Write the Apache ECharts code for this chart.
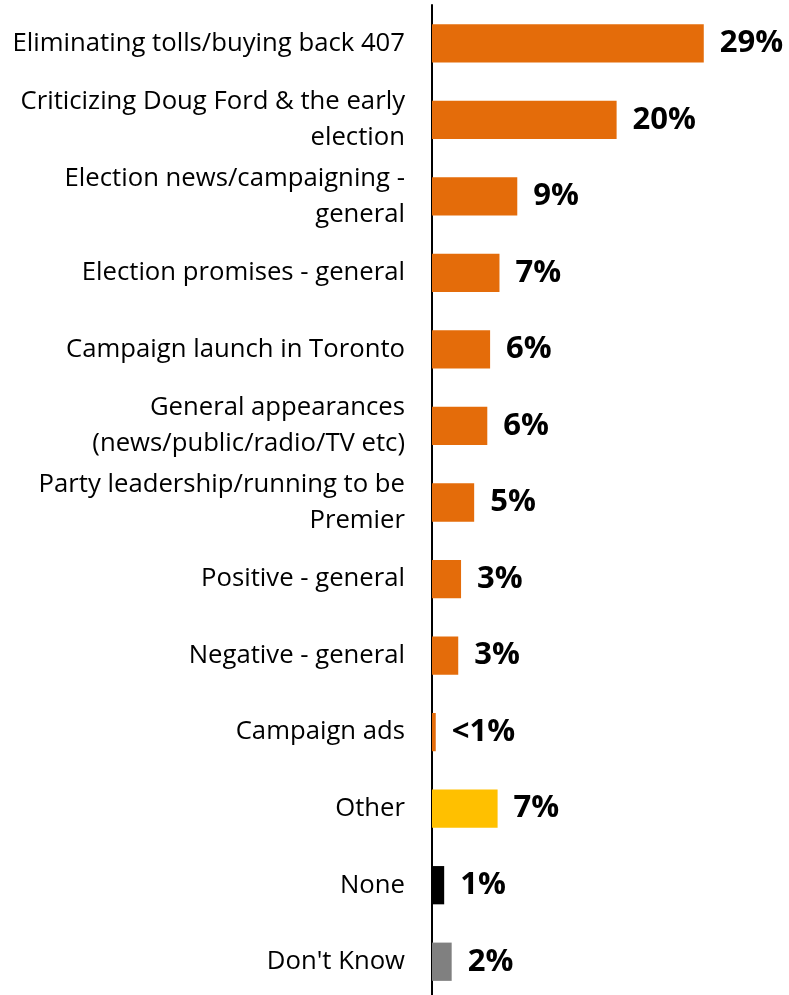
<!DOCTYPE html>
<html><head><meta charset="utf-8">
<script src="https://cdn.jsdelivr.net/npm/echarts@6/dist/echarts.min.js"></script>
<style>html,body{margin:0;padding:0;background:#fff}#c{width:789px;height:995px}</style>
</head><body><div id="c"></div>
<script>
const categories = [
  "Eliminating tolls/buying back 407",
  "Criticizing Doug Ford & the early\nelection",
  "Election news/campaigning -\ngeneral",
  "Election promises - general",
  "Campaign launch in Toronto",
  "General appearances\n(news/public/radio/TV etc)",
  "Party leadership/running to be\nPremier",
  "Positive - general",
  "Negative - general",
  "Campaign ads",
  "Other",
  "None",
  "Don't Know"
];
const values = [29.0, 19.7, 9.1, 7.2, 6.2, 5.9, 4.5, 3.1, 2.8, 0.4, 7.0, 1.3, 2.1];
const valueLabels = ["29%", "20%", "9%", "7%", "6%", "6%", "5%", "3%", "3%", "<1%", "7%", "1%", "2%"];
const barColors = ["#E46C0A","#E46C0A","#E46C0A","#E46C0A","#E46C0A","#E46C0A","#E46C0A","#E46C0A","#E46C0A","#E46C0A","#FFC000","#000000","#808080"];

const chart = echarts.init(document.getElementById('c'), null, {renderer: 'canvas'});
chart.setOption({
  animation: false,
  grid: {left: 432, right: 29, top: 5, height: 995, containLabel: false, outerBoundsMode: 'none'},
  xAxis: {type: 'value', min: 0, max: 35, show: false},
  yAxis: {
    type: 'category', inverse: true, data: categories,
    axisLine: {show: true, lineStyle: {color: '#000', width: 2}},
    axisTick: {show: false},
    axisLabel: {
      margin: 27, color: '#000', fontFamily: 'Open Sans', fontSize: 25.7,
      lineHeight: 36, align: 'right'
    }
  },
  series: [{
    type: 'bar', barWidth: '50%',
    data: values.map((v, i) => ({value: v, itemStyle: {color: barColors[i]}})),
    label: {
      show: true, position: 'right', distance: 16,
      formatter: p => valueLabels[p.dataIndex],
      color: '#000', fontFamily: 'Open Sans', fontWeight: 'bold', fontSize: 31
    }
  }]
});
</script></body></html>
